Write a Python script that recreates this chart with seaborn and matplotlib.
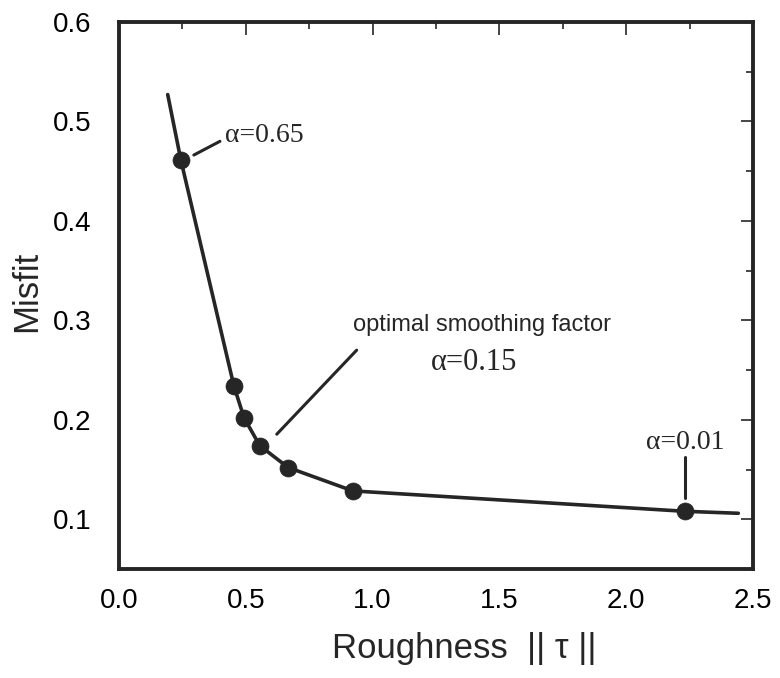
import matplotlib
matplotlib.use("Agg")
import matplotlib.pyplot as plt
from matplotlib.ticker import MultipleLocator
import seaborn as sns
import pandas as pd

# Data
curve_x = [0.192, 0.244, 0.453, 0.493, 0.555, 0.667, 0.922, 2.231, 2.442]
curve_y = [0.527, 0.461, 0.234, 0.202, 0.174, 0.152, 0.1285, 0.108, 0.106]
point_x = [0.244, 0.453, 0.493, 0.555, 0.667, 0.922, 2.231]
point_y = [0.461, 0.234, 0.202, 0.174, 0.152, 0.1285, 0.108]
x_ticks = [0.0, 0.5, 1.0, 1.5, 2.0, 2.5]
y_ticks = [0.1, 0.2, 0.3, 0.4, 0.5, 0.6]

sns.set_theme(style="white")
plt.rcParams['font.family'] = ['Liberation Sans', 'DejaVu Sans']

ink = "#262626"
fig = plt.figure(figsize=(7.8, 6.78), dpi=100)
ax = fig.add_axes([0.1526, 0.1608, 0.8128, 0.8068])

curve = pd.DataFrame({"x": curve_x, "y": curve_y})
points = pd.DataFrame({"x": point_x, "y": point_y})
sns.lineplot(data=curve, x="x", y="y", sort=False, color=ink, linewidth=2.6, ax=ax)
sns.scatterplot(data=points, x="x", y="y", color=ink, s=150, edgecolor=ink, linewidth=0.5, zorder=3, ax=ax)

ax.set_xlim(0, 2.5)
ax.set_ylim(0.05, 0.6)
ax.set_xticks(x_ticks)
ax.set_yticks(y_ticks)
ax.set_xticklabels([f"{v:.1f}" for v in x_ticks])
ax.set_yticklabels([f"{v:.1f}" for v in y_ticks])
ax.xaxis.set_minor_locator(MultipleLocator(0.25))
ax.yaxis.set_minor_locator(MultipleLocator(0.05))
ax.tick_params(which="both", direction="in", top=True, right=True, color=ink, width=1.2,
               labelsize=20, labelcolor="black")
ax.tick_params(which="major", length=9)
ax.tick_params(which="minor", length=5)
ax.tick_params(axis="y", which="major", pad=20)
ax.tick_params(axis="x", which="major", pad=14)
for s in ax.spines.values():
    s.set_color(ink)
    s.set_linewidth(2.8)

ax.set_xlabel("Roughness  || τ ||", fontsize=25)
ax.xaxis.set_label_coords(0.545, -0.146, transform=ax.transAxes)
ax.xaxis.label.set_va("center")
ax.set_ylabel("Misfit", fontsize=25)
ax.yaxis.set_label_coords(-0.145, 0.508, transform=ax.transAxes)
ax.yaxis.label.set_va("center")

serif = ['Liberation Serif', 'DejaVu Serif']
# alpha = 0.65
ax.plot([0.295, 0.398], [0.4662, 0.480], color=ink, lw=2.2)
ax.text(0.417, 0.4863, "α=0.65", family=serif, fontsize=20, va="center", ha="left", color=ink)
# optimal
ax.plot([0.622, 0.937], [0.1855, 0.270], color=ink, lw=2.2)
ax.text(0.921, 0.2952, "optimal smoothing factor", fontsize=17, va="center", ha="left", color=ink)
ax.text(1.228, 0.258, "α=0.15", family=serif, fontsize=22, va="center", ha="left", color=ink)
# alpha = 0.01
ax.plot([2.232, 2.232], [0.1624, 0.1211], color=ink, lw=2.2)
ax.text(2.232, 0.1775, "α=0.01", family=serif, fontsize=20, va="center", ha="center", color=ink)

fig.savefig("out.png", dpi=100)
